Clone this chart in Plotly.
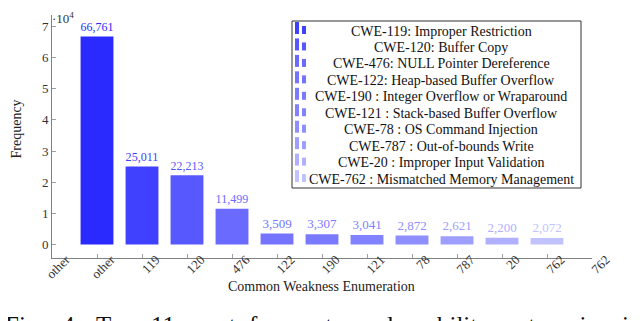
import plotly.graph_objects as go

# datos del gráfico
categorias = ["other", "119", "120", "476", "122", "190", "121", "78", "787", "20", "762"]
frecuencias = [66761, 25011, 22213, 11499, 3509, 3307, 3041, 2872, 2621, 2200, 2072]
etiquetas_x = ["other", "other", "119", "120", "476", "122", "190", "121", "78", "787", "20", "762", "762"]
etiquetas_y = ["0", "1", "2", "3", "4", "5", "6", "7"]
nombres_leyenda = [
    "CWE-119: Improper Restriction",
    "CWE-120: Buffer Copy",
    "CWE-476: NULL Pointer Dereference",
    "CWE-122: Heap-based Buffer Overflow",
    "CWE-190 : Integer Overflow or Wraparound",
    "CWE-121 : Stack-based Buffer Overflow",
    "CWE-78 : OS Command Injection",
    "CWE-787 : Out-of-bounds Write",
    "CWE-20 : Improper Input Validation",
    "CWE-762 : Mismatched Memory Management",
]
palabras_pie = ["Fig.", "4:", "Top", "11", "most", "frequent", "vulnerability", "categories", "in"]

colores = ["#2a2aff", "#4040ff", "#5858ff", "#6a6aff", "#7474ff", "#7a7aff",
           "#8282ff", "#8e8eff", "#9e9eff", "#b0b0ff", "#c2c2ff"]

fuente = "Liberation Serif, Times New Roman, DejaVu Serif, serif"

# la página deja 8 px de margen en el body, así que todo se corre
OFF = 8
# área del gráfico en píxeles de la ventana (640x321)
X0, X1, Y0, Y1 = 52, 592, 15, 258


def px(x):
    return (x - X0) / (X1 - X0)


def py(y):
    return (Y1 - y) / (Y1 - Y0)


fig = go.Figure()
fig.add_trace(go.Bar(
    x=list(range(1, len(categorias) + 1)),
    y=frecuencias,
    width=0.73,
    marker=dict(color=colores, line=dict(width=0)),
    texttemplate="%{y:,}",
    textposition="outside",
    textfont=dict(family=fuente, size=13, color=colores),
    cliponaxis=False,
    showlegend=False,
))

fig.update_xaxes(
    range=[0, 12],
    tickvals=list(range(len(etiquetas_x))),
    ticktext=etiquetas_x,
    tickangle=-45,
    ticklabelshift=14,
    ticklabelstandoff=-12,
    showline=True, linecolor="#808080", linewidth=1,
    ticks="inside", ticklen=4, tickcolor="#a0a0a0",
    showgrid=False, zeroline=False,
    tickfont=dict(family=fuente, size=13, color="#333"),
)
fig.update_yaxes(
    range=[-4335, 73693],
    tickvals=[i * 10000 for i in range(len(etiquetas_y))],
    ticktext=etiquetas_y,
    showline=True, linecolor="#808080", linewidth=1,
    ticks="inside", ticklen=4, tickcolor="#a0a0a0",
    showgrid=False, zeroline=False,
    tickfont=dict(family=fuente, size=13, color="#333"),
)

anotaciones = [
    dict(text="·10<sup>4</sup>", x=px(50), y=py(8.5), xanchor="left", yanchor="top",
         font=dict(family=fuente, size=13, color="#333")),
    dict(text="Frequency", x=px(15.5), y=py(129), textangle=-90, xanchor="center", yanchor="middle",
         font=dict(family=fuente, size=14, color="#222")),
    dict(text="Common Weakness Enumeration", x=px(321), y=py(286), xanchor="center", yanchor="middle",
         font=dict(family=fuente, size=14, color="#222")),
]

# leyenda hecha a mano (texto centrado como en pgfplots)
formas = [dict(type="rect", xref="paper", yref="paper", x0=px(292), x1=px(581), y0=py(21), y1=py(188),
               line=dict(color="#333", width=1), fillcolor="white")]
for i, nombre in enumerate(nombres_leyenda):
    yc = 31 + i * 16.45
    anotaciones.append(dict(text=nombre, x=px(441), y=py(yc), xanchor="center", yanchor="middle",
                            font=dict(family=fuente, size=14, color="#111")))
    c = colores[i + 1]
    formas.append(dict(type="rect", xref="paper", yref="paper", x0=px(295), x1=px(299),
                       y0=py(yc + 3), y1=py(yc - 9), line=dict(width=0), fillcolor=c))
    formas.append(dict(type="rect", xref="paper", yref="paper", x0=px(302), x1=px(306),
                       y0=py(yc + 3), y1=py(yc - 5), line=dict(width=0), fillcolor=c))

# pie de figura, cortado abajo
pos_palabras = [1, 58, 92, 147, 183, 245, 358, 502, 618]
for palabra, xp in zip(palabras_pie, pos_palabras):
    anotaciones.append(dict(text=palabra, x=px(xp + 2), y=py(310), xanchor="left", yanchor="top",
                            font=dict(family=fuente, size=25, color="#111")))

for a in anotaciones:
    a.update(xref="paper", yref="paper", showarrow=False)

fig.update_layout(
    template="none",
    width=640, height=321,
    margin=dict(l=X0 - OFF, r=640 - X1 + OFF, t=Y0 - OFF, b=321 - Y1 + OFF, autoexpand=False),
    paper_bgcolor="white", plot_bgcolor="white",
    showlegend=False,
    annotations=anotaciones,
    shapes=formas,
    font=dict(family=fuente),
)

fig.write_html("out.html")
